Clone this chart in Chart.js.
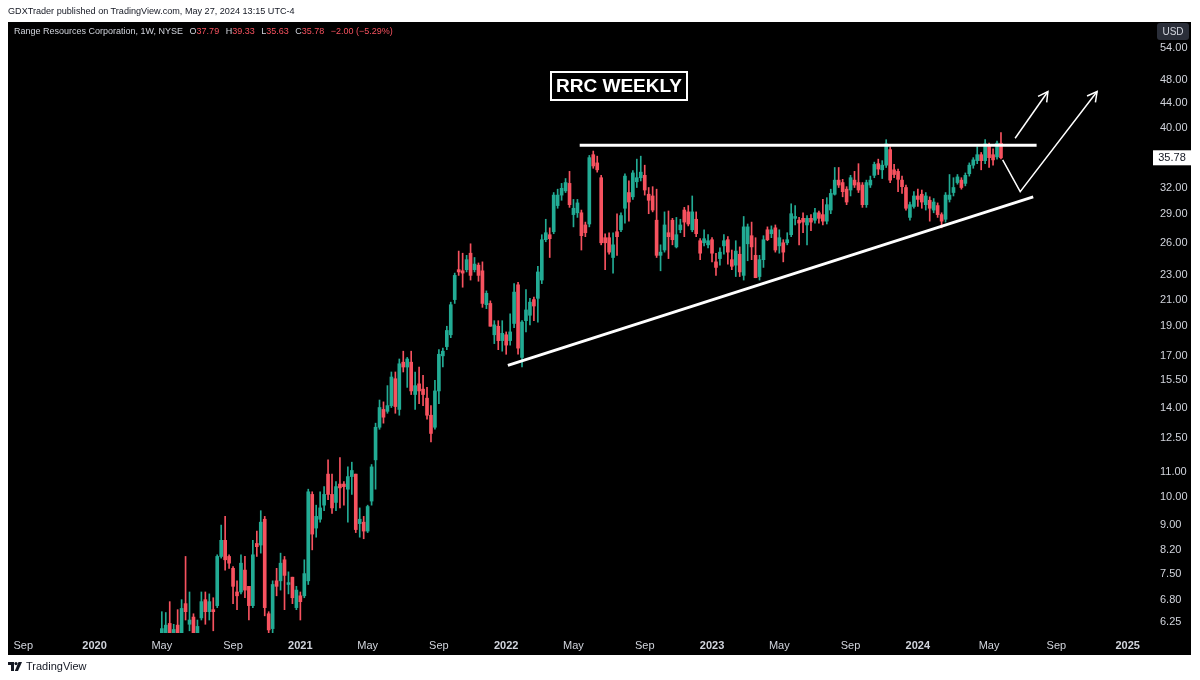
<!DOCTYPE html>
<html>
<head>
<meta charset="utf-8">
<script src="https://cdn.jsdelivr.net/npm/chart.js@4.4.1/dist/chart.umd.min.js"></script>
<style>
  body { margin: 0; background: #fff; }
  #wrap { position: relative; width: 1200px; height: 680px; overflow: hidden; font-family: "Liberation Sans", Arial, sans-serif; }
  canvas { position: absolute; left: 0; top: 0; }
  .hdr { position: absolute; left: 8px; top: 6px; font-size: 9.1px; color: #131722; }
  .legend { position: absolute; left: 14px; top: 26px; font-size: 9px; color: #d1d4dc; white-space: nowrap; }
  .legend span { margin-left: 4px; }
  .legend .v { color: #f7525f; margin-left: 0; }
  .title { position: absolute; left: 550px; top: 71px; width: 138px; height: 30px; box-sizing: border-box;
           border: 2px solid #fff; color: #fff; font-weight: bold; font-size: 19px; line-height: 26px; text-align: center; }
  .footer { position: absolute; left: 8px; top: 660px; font-size: 11px; color: #131722; display: flex; align-items: center; gap: 4px; }
</style>
</head>
<body>
<div id="wrap">
  <canvas id="chart" width="1200" height="680"></canvas>
  <div class="hdr">GDXTrader published on TradingView.com, May 27, 2024 13:15 UTC-4</div>
  <div class="legend">Range Resources Corporation, 1W, NYSE
    <span>O</span><span class="v">37.79</span>
    <span>H</span><span class="v">39.33</span>
    <span>L</span><span class="v">35.63</span>
    <span>C</span><span class="v">35.78</span>
    <span class="v" style="margin-left:4px">−2.00 (−5.29%)</span>
  </div>
  <div class="title">RRC WEEKLY</div>
  <div class="footer">
    <svg width="14" height="9" viewBox="0 0 14 9"><path d="M0 0h6v9H3V3H0z" fill="#131722"/><circle cx="8" cy="1.6" r="1.6" fill="#131722"/><path d="M10.5 0H14l-4 9H6.8z" fill="#131722"/></svg>
    <span>TradingView</span>
  </div>
</div>
<script>
// Weekly candles, RRC, first week 2020-05-04, last week 2024-05-27
const firstWeek = '2020-05-04';

const opens = [
  5.98, 5.98, 6.22, 6.00, 6.18, 6.00, 6.70, 6.20, 6.37, 5.98,
  6.35, 6.80, 6.50, 6.55, 6.65, 8.00, 8.50, 8.00, 7.65, 7.00,
  7.00, 7.60, 7.15, 6.65, 8.40, 8.35, 9.20, 6.45, 6.10, 7.30,
  7.30, 7.90, 7.20, 7.40, 6.60, 6.90, 6.90, 7.30, 10.10, 8.90,
  9.20, 9.70, 10.90, 10.10, 9.80, 10.50, 10.50, 10.30, 10.80, 10.90,
  9.05, 9.10, 8.80, 9.85, 11.50, 13.00, 13.90, 13.80, 14.10, 15.60,
  13.90, 16.60, 16.30, 16.60, 14.70, 15.30, 15.00, 14.50, 13.60, 13.00,
  14.90, 17.00, 17.60, 18.40, 21.00, 23.50, 23.40, 23.50, 25.00, 23.50,
  23.90, 23.40, 20.60, 20.70, 18.40, 19.00, 18.00, 18.40, 18.00, 19.20,
  22.20, 16.90, 19.40, 19.80, 21.00, 21.10, 22.60, 26.30, 26.80, 27.10,
  29.90, 31.10, 31.60, 32.50, 28.90, 29.10, 29.10, 27.80, 27.90, 36.20,
  35.10, 33.20, 26.50, 26.50, 24.60, 27.10, 27.30, 29.60, 31.40, 30.90,
  32.70, 33.20, 33.50, 31.20, 31.00, 28.30, 24.80, 25.30, 27.00, 28.30,
  25.60, 27.30, 29.40, 29.20, 27.30, 28.40, 26.20, 26.00, 25.80, 26.30,
  24.20, 24.50, 25.70, 26.30, 24.40, 23.90, 24.90, 23.00, 25.90, 26.70,
  24.80, 22.90, 24.40, 27.30, 26.90, 27.50, 25.70, 26.00, 26.00, 26.80,
  28.50, 28.30, 28.50, 27.80, 28.50, 28.30, 29.10, 28.90, 28.20, 29.40,
  31.20, 32.90, 32.60, 31.80, 31.70, 32.90, 32.60, 32.30, 30.00, 32.30,
  33.50, 35.00, 34.20, 34.80, 36.90, 34.20, 34.00, 32.90, 32.00, 28.60,
  29.80, 31.00, 31.20, 30.00, 30.50, 29.40, 29.90, 28.90, 28.40, 30.60,
  31.40, 32.60, 32.90, 32.50, 33.70, 34.80, 35.40, 36.20, 35.40, 37.50,
  36.20, 35.90, 37.79
];
const highs = [
  6.50, 6.48, 6.75, 6.20, 6.55, 6.80, 8.00, 7.00, 6.45, 6.30,
  7.00, 7.00, 6.95, 6.85, 8.05, 9.00, 9.30, 8.05, 7.70, 7.30,
  8.05, 8.00, 7.15, 8.50, 8.80, 9.50, 9.30, 6.50, 7.30, 7.65,
  8.10, 8.00, 7.55, 7.40, 7.15, 7.00, 7.90, 10.30, 10.20, 9.70,
  10.20, 10.40, 11.50, 10.90, 10.60, 11.60, 10.60, 11.20, 11.40, 10.90,
  9.60, 9.30, 9.70, 11.30, 13.20, 14.40, 14.30, 15.20, 16.00, 16.00,
  16.80, 17.30, 16.90, 17.30, 16.00, 16.30, 15.80, 15.10, 14.10, 15.50,
  17.40, 17.50, 19.00, 20.80, 23.20, 25.20, 25.00, 24.80, 25.90, 24.60,
  24.10, 24.20, 21.70, 20.90, 19.40, 19.40, 19.40, 18.60, 19.90, 22.30,
  22.40, 19.40, 21.80, 21.10, 21.20, 23.80, 26.80, 28.40, 27.50, 31.40,
  31.80, 32.50, 33.10, 34.00, 30.60, 30.60, 29.40, 28.10, 36.10, 36.70,
  36.00, 33.50, 26.90, 27.00, 27.00, 29.00, 29.10, 33.70, 32.80, 34.10,
  35.60, 36.00, 34.80, 32.00, 32.10, 31.80, 25.80, 29.20, 29.30, 28.50,
  28.60, 28.40, 29.70, 29.90, 31.00, 29.20, 26.40, 27.30, 26.80, 26.50,
  25.00, 25.50, 26.80, 26.60, 25.30, 26.20, 25.60, 28.70, 27.90, 28.10,
  26.50, 24.80, 26.70, 27.60, 27.70, 27.80, 27.30, 26.30, 27.00, 30.10,
  29.90, 28.60, 29.10, 28.80, 28.90, 29.60, 29.30, 30.60, 30.80, 31.80,
  34.50, 34.50, 33.00, 32.10, 33.50, 34.00, 35.00, 32.60, 32.90, 33.40,
  35.20, 35.60, 35.40, 38.30, 37.30, 34.90, 34.30, 33.40, 32.30, 30.30,
  31.50, 31.80, 31.70, 31.40, 30.90, 30.70, 30.20, 29.10, 31.40, 33.60,
  33.20, 33.60, 33.20, 33.80, 35.10, 35.80, 37.30, 36.50, 38.30, 37.80,
  37.00, 38.10, 39.33
];
const lows = [
  5.90, 5.90, 5.90, 5.92, 5.90, 5.95, 6.30, 6.05, 5.92, 5.90,
  6.30, 6.20, 6.30, 6.05, 6.60, 7.95, 7.60, 7.65, 6.70, 6.55,
  6.95, 6.85, 6.30, 6.60, 8.00, 8.10, 6.40, 6.00, 6.00, 6.90,
  7.05, 6.55, 6.95, 6.70, 6.55, 6.30, 6.85, 7.20, 8.20, 8.60,
  9.10, 9.50, 9.90, 9.40, 9.50, 9.60, 9.70, 9.10, 10.10, 8.75,
  8.60, 8.55, 8.75, 9.70, 10.30, 12.90, 13.20, 13.70, 14.00, 13.70,
  13.60, 16.00, 15.10, 14.70, 13.90, 14.20, 14.10, 13.40, 12.30, 12.90,
  14.20, 16.30, 17.40, 18.20, 20.70, 23.00, 22.00, 23.30, 22.60, 23.30,
  22.50, 20.40, 20.30, 19.00, 17.80, 17.40, 17.30, 17.10, 17.70, 18.90,
  17.10, 16.30, 18.60, 19.10, 19.40, 19.30, 22.30, 26.10, 24.60, 26.90,
  29.60, 30.50, 31.40, 29.70, 27.60, 28.60, 25.30, 26.60, 27.60, 34.40,
  33.90, 25.80, 23.50, 24.90, 23.20, 24.80, 27.10, 28.00, 28.20, 30.60,
  32.00, 32.80, 31.10, 29.00, 29.20, 24.60, 23.40, 25.10, 24.50, 25.80,
  25.50, 27.00, 26.60, 27.70, 27.10, 26.60, 24.40, 25.70, 25.50, 24.20,
  23.00, 23.90, 24.90, 24.00, 23.50, 22.90, 22.90, 22.60, 24.30, 24.40,
  22.80, 22.60, 23.70, 26.20, 26.50, 25.10, 25.00, 24.20, 25.80, 26.60,
  27.80, 25.80, 27.00, 25.80, 27.20, 28.00, 28.00, 27.80, 27.90, 29.00,
  31.10, 32.00, 30.90, 30.00, 31.00, 32.00, 31.40, 29.70, 29.70, 32.00,
  33.20, 33.60, 33.10, 34.50, 32.60, 33.20, 31.50, 31.30, 29.40, 28.30,
  29.60, 29.80, 29.60, 29.40, 28.20, 29.10, 28.60, 27.50, 28.10, 30.30,
  31.00, 32.40, 31.80, 32.20, 33.40, 34.40, 35.00, 34.20, 35.00, 34.50,
  34.80, 35.60, 35.63
];
const closes = [
  6.10, 6.18, 5.98, 6.08, 5.98, 6.58, 6.50, 6.30, 6.00, 6.15,
  6.75, 6.50, 6.75, 6.50, 8.00, 8.50, 7.90, 7.80, 7.15, 6.90,
  7.80, 7.05, 6.65, 8.05, 8.30, 9.10, 6.60, 6.07, 7.20, 7.15,
  7.80, 7.45, 7.25, 6.85, 7.05, 6.75, 7.50, 10.20, 8.70, 9.30,
  9.60, 10.10, 10.10, 9.60, 10.40, 10.35, 10.40, 10.80, 11.05, 8.85,
  9.20, 8.80, 9.65, 11.20, 13.00, 14.00, 13.50, 14.10, 15.70, 14.05,
  16.50, 16.30, 16.80, 14.90, 15.20, 14.90, 14.70, 13.60, 12.70, 14.90,
  17.10, 17.30, 18.70, 20.60, 23.00, 23.30, 23.20, 24.40, 23.00, 24.00,
  23.00, 20.70, 21.50, 19.00, 19.10, 18.00, 18.50, 17.70, 18.60, 21.60,
  17.50, 19.30, 20.20, 20.80, 20.50, 23.30, 26.30, 27.00, 26.40, 31.10,
  31.10, 31.90, 32.60, 30.00, 29.60, 30.20, 26.70, 27.00, 35.80, 34.70,
  34.20, 26.00, 26.00, 25.10, 25.80, 26.60, 28.80, 33.40, 30.30, 33.80,
  33.20, 33.90, 31.70, 30.50, 29.40, 24.80, 25.10, 27.80, 26.60, 26.30,
  26.80, 27.80, 28.10, 27.90, 29.20, 26.90, 25.00, 26.40, 26.20, 25.00,
  23.70, 25.10, 26.20, 25.10, 23.80, 25.20, 23.30, 27.60, 27.60, 25.60,
  22.80, 24.40, 26.30, 26.30, 27.30, 25.30, 26.50, 25.10, 26.30, 29.00,
  28.70, 28.00, 28.10, 28.50, 28.10, 29.10, 28.50, 28.20, 30.00, 31.30,
  32.90, 32.30, 31.50, 30.30, 33.20, 32.30, 31.70, 30.00, 32.60, 32.90,
  34.90, 34.30, 34.80, 37.70, 32.90, 33.60, 33.00, 32.10, 29.60, 30.00,
  31.00, 30.60, 30.30, 31.00, 29.60, 30.30, 28.90, 28.20, 31.10, 31.10,
  32.00, 33.30, 32.00, 33.50, 34.80, 35.50, 36.20, 35.40, 37.70, 35.80,
  35.50, 37.80, 35.78
];

// Axis ticks
const yTicks = [6.25, 6.8, 7.5, 8.2, 9, 10, 11, 12.5, 14, 15.5, 17, 19, 21, 23, 26, 29, 32, 40, 44, 48, 54];
const xTickDates = ['2019-09-02', '2020-01-06', '2020-05-04', '2020-09-07', '2021-01-04', '2021-05-03', '2021-09-06',
  '2022-01-03', '2022-05-02', '2022-09-05', '2023-01-02', '2023-05-01', '2023-09-04', '2024-01-01', '2024-05-06',
  '2024-09-02', '2025-01-06'];
const xTickLabels = ['Sep', '2020', 'May', 'Sep', '2021', 'May', 'Sep', '2022', 'May', 'Sep', '2023', 'May', 'Sep',
  '2024', 'May', 'Sep', '2025'];

// Drawn lines: [date, price]
const resistanceLine = [['2022-05-13', 37.5], ['2024-07-29', 37.5]];
const supportLine = [['2022-01-06', 16.4], ['2024-07-23', 30.9]];
const arrowUp = [['2024-06-21', 38.5], ['2024-08-18', 45.9]];
const arrowDipUp = [['2024-05-30', 35.5], ['2024-06-30', 31.5], ['2024-11-13', 45.9]];

const upColor = '#22ab94';
const downColor = '#f7525f';
const axisText = '#d1d4dc';
const fontFamily = '"Liberation Sans", Arial, sans-serif';

// days since 2020-01-01
function dayNum(s) {
    const [y, m, d] = s.split('-').map(Number);
    return (Date.UTC(y, m - 1, d) - Date.UTC(2020, 0, 1)) / 86400000;
}

const start = dayNum(firstWeek);
const xs = opens.map((o, i) => start + 7 * i);
const colors = opens.map((o, i) => closes[i] >= o ? upColor : downColor);
const bodies = opens.map((o, i) => ({ x: xs[i], y: [o, closes[i]] }));
const wicks = opens.map((o, i) => ({ x: xs[i], y: [lows[i], highs[i]] }));
const toPts = arr => arr.map(p => ({ x: dayNum(p[0]), y: p[1] }));
const xTickValues = xTickDates.map(dayNum);

const lastClose = closes[closes.length - 1];

const panelPlugin = {
    id: 'panel',
    beforeDraw(chart) {
        const c = chart.ctx;
        c.save();
        c.fillStyle = '#ffffff';
        c.fillRect(0, 0, chart.width, chart.height);
        c.fillStyle = '#000000';
        c.fillRect(8, 22, 1183, 633);
        c.restore();
    },
    afterDraw(chart) {
        const c = chart.ctx;
        const ys = chart.scales.y;
        c.save();
        // arrow heads
        chart.data.datasets.forEach((ds, di) => {
            if (!ds.arrow) return;
            const pts = chart.getDatasetMeta(di).data;
            const a = pts[pts.length - 2], b = pts[pts.length - 1];
            const ang = Math.atan2(b.y - a.y, b.x - a.x);
            c.strokeStyle = '#ffffff';
            c.lineWidth = 1.5;
            c.beginPath();
            c.moveTo(b.x - 11 * Math.cos(ang - 0.5), b.y - 11 * Math.sin(ang - 0.5));
            c.lineTo(b.x, b.y);
            c.lineTo(b.x - 11 * Math.cos(ang + 0.5), b.y - 11 * Math.sin(ang + 0.5));
            c.stroke();
        });
        // last price label
        const py = ys.getPixelForValue(lastClose);
        c.fillStyle = '#ffffff';
        c.fillRect(1153, py - 7.5, 38, 15);
        c.fillStyle = '#131722';
        c.font = '11px ' + fontFamily;
        c.textAlign = 'center';
        c.textBaseline = 'middle';
        c.fillText(lastClose.toFixed(2), 1172, py + 0.5);
        // currency box
        c.fillStyle = '#2a2e39';
        c.beginPath();
        c.roundRect(1157, 23, 32, 17, 3);
        c.fill();
        c.fillStyle = '#d1d4dc';
        c.font = '10px ' + fontFamily;
        c.fillText('USD', 1173, 32);
        c.restore();
    }
};

const lineStyle = { type: 'line', borderColor: '#ffffff', pointRadius: 0, tension: 0, fill: false, order: 0 };

new Chart(document.getElementById('chart'), {
    type: 'bar',
    data: {
        datasets: [
            { ...lineStyle, label: 'resistance', data: toPts(resistanceLine), borderWidth: 3 },
            { ...lineStyle, label: 'support', data: toPts(supportLine), borderWidth: 3 },
            { ...lineStyle, label: 'arrow1', data: toPts(arrowUp), borderWidth: 1.5, arrow: true },
            { ...lineStyle, label: 'arrow2', data: toPts(arrowDipUp), borderWidth: 1.5, arrow: true },
            { label: 'body', data: bodies, backgroundColor: colors, barThickness: 3, grouped: false, minBarLength: 1, order: 1 },
            { label: 'wick', data: wicks, backgroundColor: colors, barThickness: 1, grouped: false, order: 2 }
        ]
    },
    options: {
        responsive: false,
        devicePixelRatio: 1,
        animation: false,
        layout: { padding: { left: 8, right: 10, top: 22, bottom: 25 } },
        plugins: { legend: { display: false }, tooltip: { enabled: false } },
        scales: {
            x: {
                type: 'linear',
                min: dayNum('2019-08-06'),
                max: dayNum('2025-02-11'),
                offset: false,
                grid: { display: false, drawTicks: false },
                border: { display: false },
                afterBuildTicks: s => { s.ticks = xTickValues.map((v, i) => ({ value: v, major: !isNaN(+xTickLabels[i]) })); },
                afterFit: s => { s.height = 22; },
                ticks: {
                    autoSkip: false,
                    maxRotation: 0,
                    padding: 6,
                    color: axisText,
                    font: ctx => ({ family: fontFamily, size: 11, weight: ctx.tick && ctx.tick.major ? 'bold' : 'normal' }),
                    callback: (v, i) => xTickLabels[i]
                }
            },
            y: {
                type: 'logarithmic',
                position: 'right',
                min: 6.0,
                max: 59.6,
                grid: { display: false, drawTicks: false },
                border: { display: false },
                afterBuildTicks: s => { s.ticks = yTicks.map(v => ({ value: v })); },
                afterFit: s => { s.width = 42; },
                ticks: {
                    autoSkip: false,
                    padding: 12,
                    color: axisText,
                    font: { family: fontFamily, size: 11 },
                    callback: v => Number(v).toFixed(2)
                }
            }
        }
    },
    plugins: [panelPlugin]
});
</script>
</body>
</html>
